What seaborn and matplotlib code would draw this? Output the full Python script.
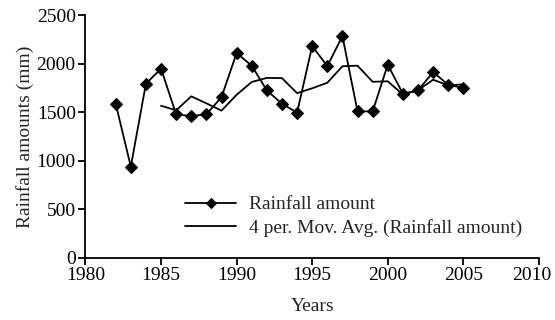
import matplotlib
matplotlib.use("Agg")
import matplotlib.pyplot as plt
import matplotlib.transforms as mtransforms
import seaborn as sns
import pandas as pd

# Annual rainfall record
years = list(range(1982, 2006))
rainfall = [1586, 938, 1792, 1947, 1476, 1459, 1476, 1654, 2108, 1978, 1723, 1586,
            1494, 2180, 1974, 2283, 1507, 1507, 1988, 1690, 1723, 1912, 1782, 1747]

# 4-period moving average trend line
ma_years = list(range(1985, 2006))
moving_avg = [1565, 1518, 1662, 1590, 1515, 1678, 1810, 1852, 1850, 1695, 1745,
              1802, 1972, 1978, 1812, 1817, 1680, 1725, 1833, 1776, 1785]

x_ticks = [1980, 1985, 1990, 1995, 2000, 2005, 2010]
y_ticks = [0, 500, 1000, 1500, 2000, 2500]

sns.set_style("ticks")
plt.rcParams["font.family"] = ["Liberation Serif", "DejaVu Serif"]
plt.rcParams["font.size"] = 14

df = pd.DataFrame({"Year": years, "Rainfall": rainfall})
df_ma = pd.DataFrame({"Year": ma_years, "MA": moving_avg})

fig = plt.figure(figsize=(5.55, 3.2), dpi=100)
ax = fig.add_axes([0.154, 0.195, 0.817, 0.758])

sns.lineplot(data=df, x="Year", y="Rainfall", ax=ax, color="black", linewidth=1.3,
             marker="D", markersize=6, markeredgecolor="black",
             label="Rainfall amount")
sns.lineplot(data=df_ma, x="Year", y="MA", ax=ax, color="black", linewidth=1.3,
             label="4 per. Mov. Avg. (Rainfall amount)")

ax.set_xlim(1980, 2010)
ax.set_ylim(0, 2500)
ax.set_xticks(x_ticks)
ax.set_yticks(y_ticks)
ax.set_xlabel("Years", labelpad=10)
ax.set_ylabel("Rainfall amounts (mm)", labelpad=2)

for side in ("top", "right"):
    ax.spines[side].set_visible(False)
for side in ("left", "bottom"):
    ax.spines[side].set_linewidth(1.3)
    ax.spines[side].set_color("black")
ax.tick_params(direction="out", length=5, width=1.3, colors="black", pad=2)

# Nudge the last year label inward so it stays inside the figure edge
fig.canvas.draw()
last = ax.get_xticklabels()[-1]
last.set_transform(last.get_transform() +
                   mtransforms.ScaledTranslation(-7 / 100, 0, fig.dpi_scale_trans))

leg = ax.legend(loc="upper left", bbox_to_anchor=(0.22, 0.255), frameon=False,
                handlelength=2.6, handletextpad=0.7, labelspacing=0.3,
                borderpad=0, borderaxespad=0)
for h in leg.legend_handles:
    h.set_markersize(5)

fig.savefig("out.png", dpi=100)
